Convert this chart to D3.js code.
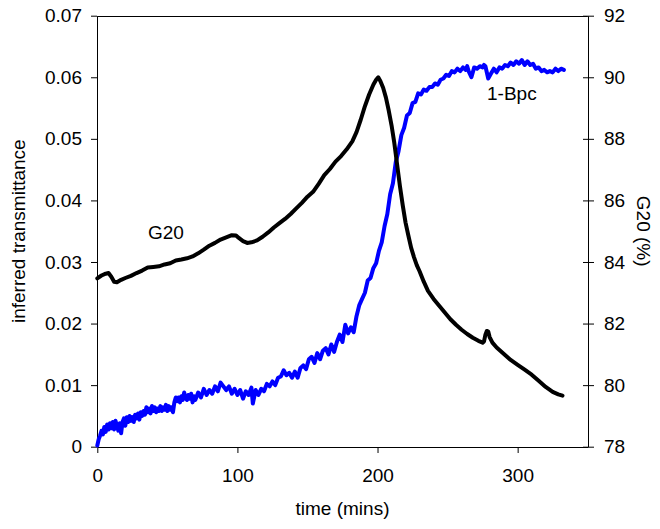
<!DOCTYPE html>
<html>
<head>
<meta charset="utf-8">
<script src="https://cdn.jsdelivr.net/npm/d3@7"></script>
<style>
  body { margin: 0; background: #fff; }
  svg { display: block; }
  text { font-family: "Liberation Sans", Arial, sans-serif; }
</style>
</head>
<body>
<svg id="chart" width="660" height="529"></svg>
<script>
// ---- data ----
const xTicks = [0, 100, 200, 300];
const leftTicks = [0, 0.01, 0.02, 0.03, 0.04, 0.05, 0.06, 0.07];
const rightTicks = [78, 80, 82, 84, 86, 88, 90, 92];

// 1-Bpc : inferred transmittance (left axis)
const bpcTime = [0,1,2,3,4,5,6,7,8,9,10,11,12,13,14,15,16,17,18,19,20,21,22,23,24,25,26,27,28,29,30,31,32,33,34,35,36,37,38,39,40,41,42,43,44,45,46,47,48,49,50,51,52,53,54,55,56,57,58,59,60,61,62,63,64,65,66,67,68,69,70,72,74,76,78,80,82,84,86,88,90,92,94,96,98,100,102,104,106,108,110,111,113,115,117,119,121,123,125,127,129,131,133,135,137,139,141,143,145,147,149,151,153,155,157,159,161,163,165,167,169,171,173,175,177,179,181,183,185,187,189,191,193,195,197,199,201,203,205,207,209,211,213,215,217,219,221,223,225,227,229,231,233,235,237,239,241,243,245,247,249,251,253,255,257,259,261,263,264,265,267,269,271,273,275,276,277,279,281,283,285,287,289,291,293,295,297,299,301,303,305,307,309,311,313,315,317,319,321,323,325,327,329,331,333];
const bpcValue = [0.0002,0.0012,0.0018,0.0026,0.0020,0.0032,0.0024,0.0036,0.0028,0.0038,0.0030,0.0040,0.0028,0.0042,0.0034,0.0026,0.0038,0.0022,0.0040,0.0046,0.0034,0.0048,0.0040,0.0050,0.0042,0.0048,0.0040,0.0052,0.0046,0.0054,0.0044,0.0056,0.0050,0.0058,0.0052,0.0064,0.0056,0.0062,0.0054,0.0066,0.0058,0.0064,0.0056,0.0062,0.0058,0.0066,0.0058,0.0064,0.0060,0.0068,0.0058,0.0066,0.0060,0.0064,0.0056,0.0072,0.0080,0.0074,0.0080,0.0072,0.0082,0.0076,0.0088,0.0080,0.0076,0.0084,0.0078,0.0086,0.0072,0.0082,0.0076,0.0088,0.0080,0.0094,0.0084,0.0092,0.0086,0.0098,0.0090,0.0104,0.0098,0.0092,0.0098,0.0086,0.0094,0.0084,0.0092,0.0078,0.0090,0.0084,0.0096,0.0070,0.0092,0.0084,0.0094,0.0090,0.0102,0.0098,0.0106,0.0100,0.0112,0.0114,0.0124,0.0116,0.0120,0.0112,0.0122,0.0112,0.0128,0.0132,0.0126,0.0142,0.0146,0.0136,0.0152,0.0142,0.0156,0.0160,0.0150,0.0166,0.0154,0.0170,0.0182,0.0170,0.0198,0.0184,0.0194,0.0186,0.0212,0.0230,0.0240,0.0250,0.0270,0.0274,0.0290,0.0298,0.0318,0.0332,0.0358,0.0378,0.0410,0.0428,0.0462,0.0480,0.0506,0.0518,0.0538,0.0542,0.0558,0.0560,0.0574,0.0572,0.0580,0.0578,0.0584,0.0584,0.0590,0.0588,0.0596,0.0598,0.0604,0.0602,0.0610,0.0608,0.0614,0.0610,0.0616,0.0612,0.0618,0.0610,0.0600,0.0616,0.0614,0.0618,0.0616,0.0620,0.0618,0.0598,0.0606,0.0614,0.0608,0.0616,0.0614,0.0620,0.0618,0.0624,0.0620,0.0626,0.0622,0.0628,0.0620,0.0626,0.0620,0.0622,0.0614,0.0616,0.0610,0.0612,0.0608,0.0610,0.0608,0.0614,0.0610,0.0614,0.0612,0.0616,0.0612,0.0618,0.0618];

// G20 (%) (right axis)
const g20Time = [0,3,6,8,10,12,14,17,20,24,28,32,36,40,44,48,52,56,60,64,68,72,76,80,84,88,92,96,99,101,104,107,110,114,118,122,126,130,134,138,142,146,150,154,158,162,166,170,174,178,182,185,188,191,194,197,199,200.5,202,204,206,208,210,212,214,216,218,220,222,224,226,228,230,233,236,240,244,248,252,256,260,264,268,272,275,276,277,278,279,280,282,285,290,295,300,305,310,315,320,325,329,332];
const g20Value = [83.47,83.56,83.62,83.64,83.52,83.36,83.34,83.42,83.48,83.55,83.64,83.72,83.82,83.84,83.86,83.92,83.96,84.05,84.08,84.12,84.18,84.28,84.40,84.53,84.62,84.73,84.80,84.87,84.86,84.78,84.68,84.62,84.64,84.70,84.82,84.96,85.12,85.26,85.40,85.56,85.74,85.92,86.12,86.28,86.54,86.82,87.02,87.26,87.44,87.66,87.92,88.22,88.62,89.06,89.44,89.76,89.92,90.00,89.88,89.66,89.34,88.92,88.44,87.86,87.16,86.46,85.84,85.28,84.86,84.46,84.16,83.90,83.70,83.36,83.06,82.80,82.58,82.36,82.14,81.96,81.80,81.66,81.54,81.44,81.38,81.42,81.64,81.76,81.74,81.56,81.38,81.22,81.02,80.82,80.66,80.50,80.34,80.14,79.94,79.78,79.70,79.66];

// ---- chart ----
const svg = d3.select("#chart");
const L = 97.3, R = 587.7, T = 15.7, B = 446.7;
const x = d3.scaleLinear().domain([0, 350]).range([L, R]);
const yL = d3.scaleLinear().domain([0, 0.07]).range([B, T]);
const yR = d3.scaleLinear().domain([78, 92]).range([B, T]);

const fontSize = "19px";

// frame top line
svg.append("line").attr("x1", L).attr("x2", R).attr("y1", Math.round(T) + 0.5).attr("y2", Math.round(T) + 0.5)
  .attr("stroke", "#000").attr("stroke-width", 1);

// bottom axis
const gx = svg.append("g").attr("transform", `translate(0,${Math.round(B)})`)
  .call(d3.axisBottom(x).tickValues(xTicks).tickSize(6).tickPadding(16).tickSizeOuter(0).tickFormat(d3.format("d")));
// left axis
const gl = svg.append("g").attr("transform", `translate(${Math.round(L)},0)`)
  .call(d3.axisLeft(yL).tickValues(leftTicks).tickSize(6).tickPadding(9).tickSizeOuter(0)
    .tickFormat(d => d === 0 ? "0" : d3.format(".2f")(d)));
// right axis
const gr = svg.append("g").attr("transform", `translate(${Math.round(R)},0)`)
  .call(d3.axisRight(yR).tickValues(rightTicks).tickSize(6).tickPadding(10).tickSizeOuter(0).tickFormat(d3.format("d")));
gr.selectAll(".tick line").attr("x1", -5);

[gx, gl, gr].forEach(g => {
  g.selectAll("text").attr("font-size", fontSize).attr("fill", "#000").attr("font-family", "Liberation Sans, Arial, sans-serif");
  g.selectAll("line, path").attr("stroke", "#000");
});

// lines
const bpc = bpcTime.map((t, i) => [t, bpcValue[i]]);
const g20 = g20Time.map((t, i) => [t, g20Value[i]]);

svg.append("path").datum(bpc)
  .attr("fill", "none").attr("stroke", "#0000ff").attr("stroke-width", 4)
  .attr("stroke-linejoin", "round").attr("stroke-linecap", "round")
  .attr("d", d3.line().x(d => x(d[0])).y(d => yL(d[1])));

svg.append("path").datum(g20)
  .attr("fill", "none").attr("stroke", "#000").attr("stroke-width", 4)
  .attr("stroke-linejoin", "round").attr("stroke-linecap", "round")
  .attr("d", d3.line().x(d => x(d[0])).y(d => yR(d[1])));

// annotations
svg.append("text").attr("x", 148).attr("y", 239).attr("font-size", fontSize).text("G20");
svg.append("text").attr("x", 487).attr("y", 100).attr("font-size", fontSize).text("1-Bpc");

// axis titles
svg.append("text").attr("x", (L + R) / 2).attr("y", 515).attr("text-anchor", "middle")
  .attr("font-size", fontSize).text("time (mins)");
svg.append("text").attr("transform", `translate(25,${(T + B) / 2}) rotate(-90)`).attr("text-anchor", "middle")
  .attr("font-size", fontSize).text("inferred transmittance");
svg.append("text").attr("transform", `translate(637,${(T + B) / 2}) rotate(90)`).attr("text-anchor", "middle")
  .attr("font-size", fontSize).text("G20 (%)");
</script>
</body>
</html>
